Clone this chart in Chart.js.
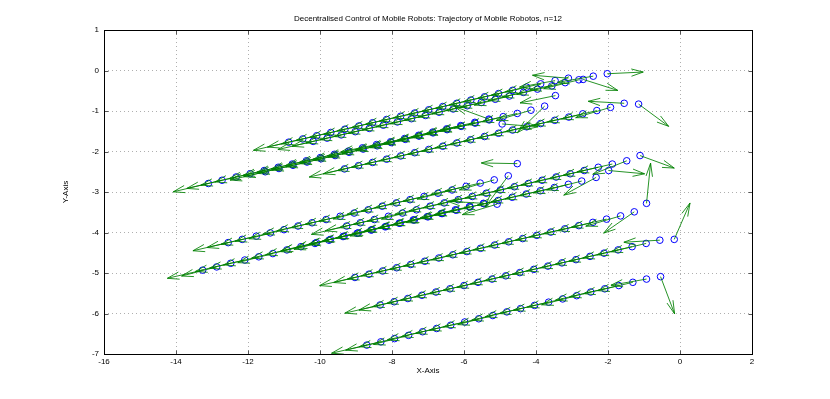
<!doctype html>
<html lang="en">
<head>
<meta charset="utf-8">
<title>Trajectory of Mobile Robots</title>
<script src="https://cdn.jsdelivr.net/npm/chart.js@4.4.0/dist/chart.umd.min.js"></script>
<style>
  body { margin: 0; background: #fff; }
  canvas { display: block; }
</style>
</head>
<body>
<canvas id="trajChart" width="830" height="399" style="width:830px;height:399px"></canvas>
<script>
// positions of each robot at every step (22 steps)
var r1x = [-2.02,-2.41,-2.81,-3.19,-3.56,-3.96,-4.35,-4.74,-5.13,-5.52,-5.91,-6.30,-6.69,-7.07,-7.46,-7.85,-8.24,-8.63,-9.02,-9.41,-9.80,-10.19];
var r1y = [-0.08,-0.14,-0.23,-0.30,-0.38,-0.46,-0.54,-0.63,-0.71,-0.79,-0.87,-0.95,-1.03,-1.11,-1.19,-1.27,-1.35,-1.43,-1.51,-1.59,-1.67,-1.75];
var r2x = [-2.69,-3.10,-3.47,-3.87,-4.26,-4.65,-5.04,-5.43,-5.81,-6.20,-6.59,-6.98,-7.37,-7.76,-8.15,-8.54,-8.92,-9.31,-9.70,-10.09,-10.48,-10.87];
var r2y = [-0.22,-0.19,-0.25,-0.33,-0.41,-0.49,-0.57,-0.65,-0.73,-0.81,-0.89,-0.97,-1.05,-1.13,-1.21,-1.29,-1.37,-1.45,-1.53,-1.61,-1.69,-1.77];
var r3x = [-1.15,-1.55,-1.93,-2.31,-2.70,-3.09,-3.48,-3.87,-4.26,-4.65,-5.04,-5.43,-5.82,-6.20,-6.59,-6.98,-7.37,-7.76,-8.15,-8.54,-8.93,-9.32];
var r3y = [-0.83,-0.81,-0.91,-0.99,-1.07,-1.15,-1.23,-1.31,-1.39,-1.47,-1.55,-1.63,-1.71,-1.79,-1.87,-1.95,-2.03,-2.11,-2.19,-2.27,-2.35,-2.43];
var r4x = [-3.46,-3.76,-4.14,-4.52,-4.91,-5.30,-5.69,-6.08,-6.47,-6.86,-7.25,-7.63,-8.02,-8.41,-8.80,-9.19,-9.58,-9.97,-10.36,-10.75,-11.14,-11.52];
var r4y = [-0.62,-0.88,-0.98,-1.06,-1.14,-1.22,-1.30,-1.38,-1.46,-1.54,-1.62,-1.70,-1.78,-1.86,-1.94,-2.02,-2.10,-2.18,-2.26,-2.34,-2.42,-2.50];
var r5x = [-4.94,-5.31,-5.70,-6.09,-6.48,-6.87,-7.26,-7.65,-8.04,-8.43,-8.82,-9.21,-9.60,-9.99,-10.38,-10.77,-11.16,-11.55,-11.94,-12.33,-12.72,-13.10];
var r5y = [-1.32,-1.20,-1.28,-1.36,-1.44,-1.52,-1.60,-1.68,-1.76,-1.83,-1.91,-1.99,-2.07,-2.15,-2.23,-2.31,-2.39,-2.47,-2.55,-2.63,-2.71,-2.79];
var r6x = [-4.52,-4.77,-5.16,-5.55,-5.94,-6.33,-6.72,-7.11,-7.50,-7.88,-8.27,-8.66,-9.05,-9.44,-9.83,-10.22,-10.61,-11.00,-11.38,-11.77,-12.16,-12.55];
var r6y = [-2.30,-2.60,-2.70,-2.78,-2.86,-2.95,-3.03,-3.11,-3.19,-3.27,-3.35,-3.44,-3.52,-3.60,-3.68,-3.76,-3.84,-3.93,-4.01,-4.09,-4.17,-4.25];
var r7x = [-1.11,-1.48,-1.88,-2.27,-2.66,-3.05,-3.44,-3.83,-4.21,-4.60,-4.99,-5.38,-5.77,-6.16,-6.55,-6.94,-7.32,-7.71,-8.10,-8.49,-8.88,-9.26];
var r7y = [-2.10,-2.23,-2.31,-2.39,-2.47,-2.55,-2.63,-2.71,-2.79,-2.87,-2.95,-3.03,-3.11,-3.19,-3.27,-3.35,-3.44,-3.52,-3.60,-3.68,-3.76,-3.84];
var r8x = [-1.98,-2.33,-2.73,-3.10,-3.49,-3.88,-4.27,-4.66,-5.05,-5.44,-5.83,-6.21,-6.60,-6.99,-7.38,-7.77,-8.16,-8.55,-8.94,-9.33,-9.71,-10.10];
var r8y = [-2.47,-2.64,-2.73,-2.81,-2.89,-2.97,-3.05,-3.13,-3.21,-3.29,-3.37,-3.45,-3.53,-3.61,-3.69,-3.77,-3.85,-3.93,-4.01,-4.09,-4.17,-4.25];
var r9x = [-5.08,-5.46,-5.85,-6.24,-6.63,-7.02,-7.41,-7.80,-8.19,-8.58,-8.97,-9.36,-9.75,-10.14,-10.53,-10.92,-11.31,-11.70,-12.09,-12.48,-12.87,-13.26];
var r9y = [-3.30,-3.28,-3.36,-3.44,-3.53,-3.61,-3.69,-3.77,-3.86,-3.94,-4.02,-4.10,-4.19,-4.27,-4.35,-4.43,-4.52,-4.60,-4.68,-4.76,-4.85,-4.93];
var r10x = [-0.93,-1.27,-1.65,-2.04,-2.42,-2.81,-3.20,-3.59,-3.98,-4.37,-4.76,-5.15,-5.54,-5.92,-6.31,-6.70,-7.09,-7.48,-7.87,-8.26,-8.64,-9.03];
var r10y = [-3.28,-3.49,-3.59,-3.67,-3.75,-3.83,-3.91,-3.99,-4.07,-4.15,-4.23,-4.31,-4.39,-4.47,-4.55,-4.63,-4.71,-4.79,-4.87,-4.95,-5.03,-5.11];
var r11x = [-0.16,-0.56,-0.94,-1.33,-1.72,-2.11,-2.50,-2.89,-3.28,-3.67,-4.06,-4.45,-4.84,-5.22,-5.61,-6.00,-6.39,-6.78,-7.17,-7.56,-7.94,-8.33];
var r11y = [-4.17,-4.19,-4.27,-4.35,-4.43,-4.51,-4.59,-4.67,-4.75,-4.83,-4.91,-4.99,-5.07,-5.15,-5.23,-5.31,-5.39,-5.47,-5.55,-5.63,-5.71,-5.79];
var r12x = [-0.54,-0.93,-1.31,-1.70,-2.09,-2.48,-2.87,-3.26,-3.65,-4.04,-4.43,-4.81,-5.20,-5.59,-5.98,-6.37,-6.76,-7.15,-7.54,-7.93,-8.31,-8.70];
var r12y = [-5.09,-5.15,-5.23,-5.31,-5.39,-5.47,-5.56,-5.64,-5.72,-5.80,-5.88,-5.96,-6.05,-6.13,-6.21,-6.29,-6.37,-6.45,-6.54,-6.62,-6.70,-6.78];

// initial heading of each robot (degrees), the odd arrow at the start of each track
var startHeading = [2.4, -15.8, -33.3, 190.4, -4.0, 179.0, -18.0, -4.6, 195.0, 83.5, 64.0, -67.0];

var xLimits = [-16, 2];
var yLimits = [-7, 1];
var xStep = 2;
var yStep = 1;
var chartTitle = 'Decentralised Control of Mobile Robots: Trajectory of Mobile Robotos, n=12';
var xLabel = 'X-Axis';
var yLabel = 'Y-Axis';

var robotsX = [r1x, r2x, r3x, r4x, r5x, r6x, r7x, r8x, r9x, r10x, r11x, r12x];
var robotsY = [r1y, r2y, r3y, r4y, r5y, r6y, r7y, r8y, r9y, r10y, r11y, r12y];

var ARROW_LEN = 1.0;   // velocity vectors have unit length
var HEAD = 0.33;       // arrow head length, fraction of arrow
var HEAD_W = 0.09;     // arrow head half width, fraction of arrow
var GAP = {x: NaN, y: NaN};
var FONT = 'Liberation Sans, Arial, Helvetica, sans-serif';

function arrow(px, py, ang) {
  var u = Math.cos(ang) * ARROW_LEN, v = Math.sin(ang) * ARROW_LEN;
  var tx = px + u, ty = py + v;
  var bx = px + u * (1 - HEAD), by = py + v * (1 - HEAD);
  return [
    {x: px, y: py}, {x: tx, y: ty}, GAP,
    {x: bx - v * HEAD_W, y: by + u * HEAD_W}, {x: tx, y: ty}, {x: bx + v * HEAD_W, y: by - u * HEAD_W}, GAP
  ];
}

var datasets = [];
for (var r = 0; r < robotsX.length; r++) {
  var xs = robotsX[r], ys = robotsY[r];
  var pts = [], arr = [];
  for (var k = 0; k < xs.length; k++) {
    pts.push({x: xs[k], y: ys[k]});
    var ang;
    if (k === 0) ang = startHeading[r] * Math.PI / 180;
    else ang = Math.atan2(ys[k] - ys[k - 1], xs[k] - xs[k - 1]);
    arr = arr.concat(arrow(xs[k], ys[k], ang));
  }
  datasets.push({
    label: 'robot ' + (r + 1),
    data: pts,
    showLine: false,
    pointRadius: 3.3,
    pointHoverRadius: 3.3,
    pointBorderWidth: 1,
    pointBorderColor: 'rgb(0,0,255)',
    pointBackgroundColor: 'rgba(0,0,0,0)',
    order: 2
  });
  datasets.push({
    label: 'velocity ' + (r + 1),
    data: arr,
    showLine: true,
    spanGaps: false,
    pointRadius: 0,
    borderWidth: 1,
    borderColor: 'rgba(0,128,0,0.85)',
    tension: 0,
    order: 1
  });
}

var TICK_LEN = 4;
var boxPlugin = {
  id: 'box',
  afterDatasetsDraw: function (chart) {
    var a = chart.chartArea, ctx = chart.ctx;
    var sx = chart.scales.x, sy = chart.scales.y;
    var l = Math.round(a.left) + 0.5, t = Math.round(a.top) + 0.5;
    var rr = Math.round(a.right) + 0.5, b = Math.round(a.bottom) + 0.5;
    ctx.save();
    ctx.strokeStyle = '#555';
    ctx.lineWidth = 1;
    ctx.beginPath();
    sx.ticks.forEach(function (tk) {
      var p = Math.round(sx.getPixelForValue(tk.value)) + 0.5;
      ctx.moveTo(p, b); ctx.lineTo(p, b - TICK_LEN);
      ctx.moveTo(p, t); ctx.lineTo(p, t + TICK_LEN);
    });
    sy.ticks.forEach(function (tk) {
      var p = Math.round(sy.getPixelForValue(tk.value)) + 0.5;
      ctx.moveTo(l, p); ctx.lineTo(l + TICK_LEN, p);
      ctx.moveTo(rr, p); ctx.lineTo(rr - TICK_LEN, p);
    });
    ctx.stroke();
    ctx.strokeStyle = '#000';
    ctx.strokeRect(l, t, rr - l, b - t);
    ctx.restore();
  }
};

new Chart(document.getElementById('trajChart'), {
  type: 'scatter',
  data: {datasets: datasets},
  plugins: [boxPlugin],
  options: {
    responsive: false,
    animation: false,
    events: [],
    layout: {padding: {left: 0, right: 78, top: 0, bottom: 0}},
    plugins: {
      legend: {display: false},
      tooltip: {enabled: false},
      title: {
        display: true,
        text: chartTitle,
        fullSize: false,
        color: '#000',
        font: {family: FONT, size: 8, weight: 'normal', lineHeight: 1.25},
        padding: {top: 14, bottom: 6}
      }
    },
    scales: {
      x: {
        type: 'linear',
        min: xLimits[0],
        max: xLimits[1],
        afterFit: function (s) { s.height = 45; },
        ticks: {stepSize: xStep, color: '#000', padding: 3, font: {family: FONT, size: 8}},
        grid: {color: 'rgb(175,175,175)', drawTicks: false, lineWidth: 1},
        border: {display: false, dash: [1, 3]},
        title: {display: true, text: xLabel, color: '#000', font: {family: FONT, size: 8, lineHeight: 1.25}, padding: {top: 0, bottom: 23}}
      },
      y: {
        type: 'linear',
        min: yLimits[0],
        max: yLimits[1],
        afterFit: function (s) { s.width = 104; },
        ticks: {stepSize: yStep, color: '#000', padding: 5, font: {family: FONT, size: 8}},
        grid: {color: 'rgb(175,175,175)', drawTicks: false, lineWidth: 1},
        border: {display: false, dash: [1, 3]},
        title: {display: true, text: yLabel, color: '#000', font: {family: FONT, size: 8, lineHeight: 1.25}, padding: {top: 61, bottom: 0}}
      }
    }
  }
});
</script>
</body>
</html>
